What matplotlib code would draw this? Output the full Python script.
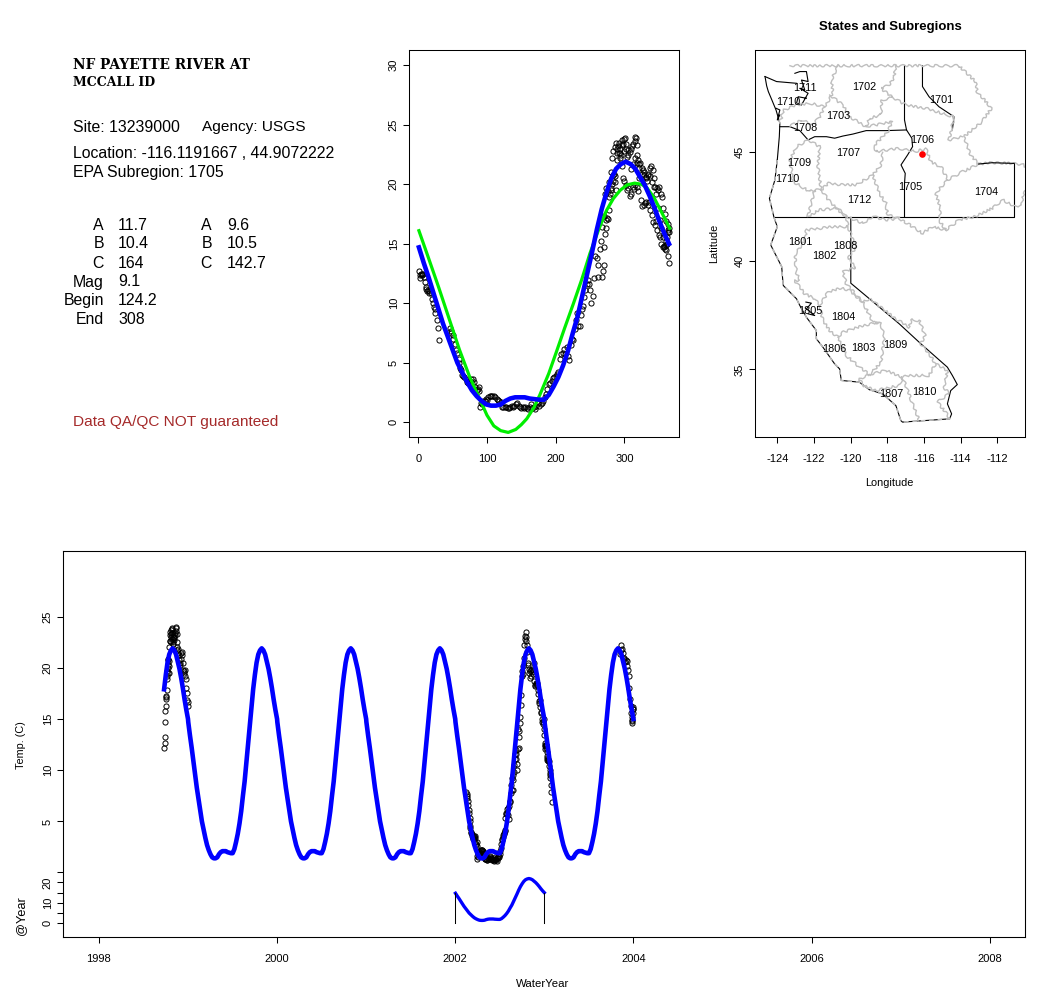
import numpy as np
import matplotlib
matplotlib.use("Agg")
import matplotlib.pyplot as plt

plt.rcParams["font.family"] = ["Liberation Sans", "DejaVu Sans"]
plt.rcParams["axes.unicode_minus"] = False

W, H = 1038, 1001

# fitted curves, day of water year -> temp
blue_days = [1, 8, 15, 22, 29, 36, 43, 50, 57, 64, 71, 78, 85, 92, 99, 106, 113, 120, 127, 134, 141, 148, 155, 162,
             169, 176, 183, 190, 197, 204, 211, 218, 225, 232, 239, 246, 253, 260, 267, 274, 281, 288, 295, 302,
             309, 316, 323, 330, 337, 344, 351, 358, 365]
blue_temp = [14.7, 13.4, 12.2, 10.9, 9.6, 8.3, 7.2, 6.1, 5.0, 4.2, 3.4, 2.7, 2.2, 1.8, 1.5, 1.4, 1.4, 1.5, 1.8, 2.0,
             2.1, 2.1, 2.1, 2.0, 1.95, 1.9, 1.9, 2.3, 3.0, 3.8, 4.8, 6.0, 7.5, 8.9, 10.7, 12.5, 14.3, 16.2, 17.9,
             19.3, 20.5, 21.3, 21.7, 21.9, 21.7, 21.3, 20.6, 19.9, 19.0, 18.0, 16.9, 15.9, 15.0]
green_days = [1, 15, 30, 45, 60, 75, 90, 100, 110, 120, 131, 142, 150, 158, 168, 177, 190, 201, 213, 226, 238, 250,
              262, 274, 284, 294, 304, 315, 325, 333, 343, 352, 360, 366]
green_temp = [16.1, 13.8, 11.3, 8.7, 6.1, 3.8, 1.9, 0.6, -0.3, -0.7, -0.85, -0.6, -0.2, 0.3, 1.2, 2.3, 4.1, 5.9, 7.9,
              10.0, 12.0, 14.2, 16.1, 17.8, 18.8, 19.5, 19.95, 20.1, 20.0, 19.7, 18.9, 17.9, 17.0, 16.3]

# observations, by the year the day counts from
obs_1998_days = [268, 269, 270, 271, 272, 273, 274, 275, 276, 277, 278, 279, 280, 281, 282, 283, 284, 285, 286, 287,
                 288, 289, 290, 291, 292, 293, 294, 295, 296, 297, 298, 299, 300, 301, 302, 303, 304, 305, 306, 308,
                 309, 311, 313, 315, 316, 317, 318, 319, 320, 321, 323, 325, 327, 329, 331, 333, 335, 337, 339, 341,
                 343, 345, 347, 349, 351, 353, 355, 357, 359, 361, 363, 365]
obs_1998_temp = [12.2, 12.7, 13.2, 14.7, 15.8, 16.3, 17.0, 17.2, 17.1, 17.8, 18.9, 19.2, 19.7, 19.5, 20.0, 20.3, 20.8,
                 20.9, 20.2, 20.7, 19.5, 22.0, 22.6, 23.2, 23.5, 22.6, 23.0, 22.5, 23.3, 23.7, 23.4, 22.8, 23.8, 23.9,
                 23.4, 23.0, 22.3, 22.5, 22.9, 22.7, 23.0, 23.2, 23.4, 23.6, 24.0, 23.9, 23.3, 22.5, 22.0, 21.7, 21.8,
                 21.4, 21.2, 20.8, 20.5, 20.3, 20.9, 21.4, 21.5, 21.2, 20.5, 19.8, 19.7, 19.5, 19.8, 19.2, 18.9, 18.0,
                 17.5, 16.9, 16.7, 16.3]
obs_2002_days = [46, 47, 48, 50, 51, 53, 55, 57, 59, 60, 61, 62, 64, 65, 67, 69, 71, 73, 75, 77, 78, 80, 81, 83, 85,
                 87, 88, 89, 90, 91, 93, 95, 97, 99, 100, 102, 104, 106, 108, 110, 112, 114, 116, 118, 120, 122, 124,
                 126, 128, 130, 132, 134, 136, 138, 140, 142, 144, 146, 148, 150, 152, 154, 156, 158, 160, 162, 164,
                 166, 168, 170, 172, 174, 176, 178, 180, 182, 184, 186, 188, 190, 192, 194, 196, 198, 200, 202, 204,
                 206, 208, 210, 212, 214, 216, 218, 220, 222, 224, 226, 228, 230, 231, 233, 235, 237, 238, 240, 242,
                 243, 245, 247, 249, 250, 252, 254, 256, 258, 260, 261, 262, 264, 266, 268, 270, 272, 274, 276, 278,
                 280, 282, 284, 286, 288, 290, 292, 294, 296, 298, 300, 302, 304, 306, 308, 310, 312, 314, 316, 318,
                 320, 322, 324, 326, 328, 330, 332, 334, 336, 338, 340, 342, 344, 346, 348, 350, 352, 354, 356, 358,
                 360, 362, 364, 365]
obs_2002_temp = [7.9, 7.7, 7.5, 7.3, 7.0, 6.6, 6.1, 5.8, 5.3, 5.0, 4.6, 4.4, 4.0, 3.9, 3.8, 3.6, 3.4, 3.3, 3.5, 3.6,
                 3.3, 3.6, 3.4, 3.0, 2.7, 2.8, 3.0, 2.6, 1.3, 1.6, 1.5, 1.8, 1.8, 2.0, 1.9, 2.1, 2.2, 2.2, 2.2, 2.2,
                 2.1, 2.0, 1.9, 1.8, 1.7, 1.3, 1.3, 1.3, 1.3, 1.2, 1.2, 1.3, 1.4, 1.3, 1.4, 1.5, 1.6, 1.4, 1.3, 1.2,
                 1.3, 1.2, 1.3, 1.2, 1.1, 1.3, 1.5, 1.2, 1.3, 1.1, 1.4, 1.6, 1.4, 1.5, 1.6, 1.8, 2.1, 2.4, 2.8, 3.2,
                 3.3, 3.5, 3.7, 3.8, 3.9, 4.1, 4.2, 5.3, 5.7, 5.8, 6.2, 5.7, 6.3, 5.6, 5.2, 6.5, 7.0, 6.9, 7.8, 8.6,
                 9.2, 8.1, 8.1, 9.0, 9.5, 9.8, 10.5, 11.1, 11.6, 12.0, 11.6, 11.1, 10.0, 10.6, 12.1, 14.0, 13.8, 12.2,
                 13.2, 14.6, 15.2, 16.4, 17.3, 19.2, 19.7, 19.4, 20.2, 21.0, 22.2, 22.8, 23.1, 23.5, 23.0, 22.6, 22.2,
                 21.5, 20.5, 20.3, 19.9, 19.5, 19.7, 19.0, 19.2, 19.8, 19.6, 19.9, 19.8, 19.4, 20.5, 18.7, 18.2, 18.3,
                 18.4, 18.5, 18.3, 18.5, 17.8, 17.4, 16.8, 16.6, 16.9, 16.2, 15.7, 15.6, 15.0, 14.7, 14.7, 14.5, 15.0,
                 14.0, 13.4]
obs_2003_days = [1, 2, 3, 4, 5, 6, 7, 8, 10, 11, 12, 13, 14, 15, 16, 18, 20, 22, 23, 24, 25, 27, 29, 30, 310, 313,
                 316, 319, 322, 325, 328, 331, 334, 337, 340, 343, 346, 349, 352, 354, 356, 358, 359, 360, 361, 362,
                 363, 364, 365]
obs_2003_temp = [12.7, 12.1, 12.4, 12.5, 12.4, 12.5, 12.5, 12.2, 11.8, 11.4, 11.2, 11.0, 11.1, 10.9, 11.0, 10.9, 10.4,
                 10.0, 9.7, 9.5, 9.2, 8.6, 7.9, 6.9, 21.3, 21.7, 22.2, 21.8, 21.4, 20.9, 21.0, 20.6, 20.8, 20.7, 20.2,
                 19.8, 19.2, 18.0, 17.0, 16.3, 15.6, 14.8, 14.6, 14.9, 15.2, 15.6, 16.0, 16.2, 16.0]

# map outlines, lon / lat
coast_line = [(-124.00, 44.65), (-124.13, 43.73), (-124.43, 42.88), (-124.18, 42.00), (-124.00, 41.57),
              (-124.36, 40.73), (-123.76, 39.73), (-123.71, 39.19), (-123.67, 38.86), (-122.95, 38.25),
              (-122.77, 37.94), (-122.41, 37.40), (-121.87, 36.79), (-121.87, 36.41), (-121.51, 36.02),
              (-120.87, 35.25), (-120.60, 35.02), (-120.51, 34.49), (-119.52, 34.41), (-118.97, 34.06),
              (-118.25, 33.87), (-117.53, 33.33), (-117.26, 32.64), (-117.17, 32.57), (-114.60, 32.72)]
state_lines = [
    [(-124.67, 48.49), (-124.04, 48.26), (-122.95, 48.18)],
    [(-124.67, 48.49), (-124.58, 48.06), (-124.49, 47.80), (-124.31, 47.44), (-124.07, 46.95), (-123.86, 46.34),
     (-123.89, 45.72)] + coast_line[:1],
    coast_line + [(-114.49, 32.95), (-114.72, 33.41), (-114.54, 34.02), (-114.18, 34.30),
                  (-114.45, 34.72), (-114.72, 35.10), (-116.17, 36.18), (-117.35, 37.10), (-118.97, 38.25),
                  (-119.99, 38.97), (-119.99, 42.00)],
    [(-124.18, 42.00), (-111.09, 42.00), (-111.09, 44.49)],
    [(-114.45, 46.03), (-114.36, 46.64), (-115.18, 47.10), (-115.72, 47.56), (-116.08, 48.03), (-116.08, 48.99)],
    [(-117.06, 48.99), (-117.06, 46.49), (-116.95, 46.03), (-116.66, 45.65), (-116.62, 45.26), (-116.89, 44.88),
     (-117.25, 44.42), (-117.02, 44.03), (-117.06, 43.57), (-117.06, 42.00)],
    [(-116.95, 46.03), (-118.07, 46.00), (-119.15, 46.00), (-119.88, 45.84), (-120.42, 45.75), (-120.87, 45.65),
     (-121.32, 45.72), (-121.96, 45.72), (-122.32, 45.57), (-122.77, 46.00), (-123.31, 46.18), (-123.86, 46.18)],
    [(-123.04, 48.64), (-122.77, 48.72), (-122.41, 48.72), (-122.32, 48.26), (-122.68, 48.33), (-122.50, 47.87),
     (-122.77, 47.95), (-122.32, 47.72), (-122.68, 47.18), (-122.95, 47.26), (-122.86, 47.56), (-122.41, 47.49)],
    [(-124.07, 47.03), (-123.86, 46.95), (-124.00, 46.49), (-123.86, 46.72)],
    [(-122.44, 38.10), (-122.14, 38.05), (-122.41, 37.79), (-121.96, 37.48), (-122.32, 37.56)],
]
# state line that stays on top of the subregion lines
state_top_line = [(-111.09, 44.49), (-112.28, 44.52), (-113.01, 44.46)]
subregion_lines = [
    [(-123.31, 48.99), (-120.69, 48.99), (-117.53, 48.99), (-114.09, 48.99), (-113.19, 48.26), (-113.10, 47.80),
     (-112.32, 47.03), (-112.83, 46.41), (-113.82, 45.72), (-113.46, 44.88), (-113.01, 44.46), (-112.28, 44.52),
     (-111.20, 44.49), (-110.57, 44.42), (-110.02, 44.03), (-109.90, 43.57), (-110.57, 43.11), (-110.66, 42.57),
     (-111.11, 42.50), (-111.65, 42.80), (-112.28, 42.42), (-113.19, 42.04), (-114.09, 41.88), (-114.81, 41.42),
     (-115.54, 41.57), (-116.08, 41.27), (-116.62, 41.57), (-117.35, 41.96), (-118.07, 41.88), (-118.79, 42.04),
     (-119.33, 41.73), (-120.24, 42.04), (-120.69, 42.42), (-121.69, 42.35), (-122.32, 42.04)],
    [(-120.69, 48.99), (-121.05, 48.33), (-120.96, 47.72), (-121.41, 47.10), (-121.69, 46.64), (-122.05, 46.26),
     (-122.68, 46.50), (-123.30, 46.20)],
    [(-121.41, 47.10), (-122.20, 47.26), (-122.95, 47.18), (-123.65, 46.95), (-123.86, 46.34)],
    [(-121.14, 47.64), (-120.42, 47.18), (-120.06, 46.64), (-119.15, 46.18), (-118.97, 46.57), (-118.34, 46.72),
     (-118.29, 47.41), (-117.71, 47.53), (-118.34, 47.95), (-117.89, 48.10), (-117.62, 48.48), (-117.53, 48.99)],
    [(-117.71, 47.53), (-116.98, 47.18), (-115.90, 47.03), (-114.72, 46.72), (-114.36, 46.64), (-114.63, 45.57),
     (-113.91, 45.72)],
    [(-119.15, 46.18), (-117.71, 46.41), (-117.98, 45.95), (-118.70, 45.33), (-118.61, 45.03), (-117.35, 45.18),
     (-116.44, 45.03), (-115.90, 45.18), (-115.63, 44.57), (-115.00, 44.26), (-114.72, 43.73), (-113.91, 44.10),
     (-113.01, 44.46)],
    [(-114.72, 43.73), (-115.36, 43.11), (-115.09, 42.42), (-115.18, 41.88), (-114.81, 41.42)],
    [(-118.25, 45.00), (-118.34, 44.42), (-118.79, 43.96), (-118.43, 43.11), (-118.07, 42.65), (-117.98, 42.11),
     (-117.35, 41.96)],
    [(-118.79, 43.96), (-119.70, 43.50), (-120.42, 43.50), (-121.23, 43.57), (-121.60, 43.26), (-121.96, 43.26),
     (-122.23, 42.42), (-122.32, 42.04)],
    [(-121.60, 43.26), (-121.14, 42.73), (-120.69, 42.35), (-120.24, 42.04)],
    [(-122.32, 45.57), (-122.95, 45.26), (-123.31, 44.65), (-123.13, 43.65), (-122.23, 43.19), (-121.96, 43.26)],
    [(-122.32, 45.57), (-121.69, 45.26), (-121.78, 44.34), (-121.60, 43.26)],
    [(-120.24, 42.04), (-120.15, 41.57), (-120.96, 41.57), (-122.41, 41.42), (-122.50, 40.96), (-123.04, 40.27),
     (-122.95, 39.42), (-122.77, 39.12), (-123.04, 39.09), (-122.50, 38.48), (-121.96, 38.25), (-121.69, 37.94)],
    [(-120.15, 41.57), (-119.88, 40.96), (-119.70, 40.63), (-120.15, 40.09), (-119.70, 39.71), (-120.42, 39.48),
     (-120.24, 38.94), (-119.33, 38.10), (-118.97, 38.25)],
    [(-121.69, 37.94), (-121.23, 38.56), (-120.51, 38.76), (-120.06, 38.63), (-119.33, 38.10), (-118.79, 37.17),
     (-118.34, 37.10), (-118.16, 36.48), (-118.34, 35.33), (-118.97, 34.76)],
    [(-121.69, 37.94), (-121.51, 37.25), (-121.14, 36.79), (-120.69, 36.48), (-120.24, 35.64), (-119.52, 35.10),
     (-118.97, 34.76)],
    [(-120.69, 36.48), (-120.42, 36.71), (-119.33, 37.02), (-118.43, 37.17)],
    [(-118.97, 34.76), (-119.52, 34.56), (-119.33, 34.26), (-118.61, 34.03), (-117.35, 34.26), (-117.17, 34.64),
     (-116.44, 33.03), (-116.26, 32.64)],
    [(-118.97, 34.76), (-118.07, 34.95), (-117.17, 34.64), (-116.80, 34.72), (-115.72, 34.72), (-115.36, 35.25)],
    [(-118.88, 38.25), (-118.61, 38.02), (-117.53, 37.33), (-116.80, 36.94), (-116.71, 37.28), (-116.26, 37.25),
     (-115.94, 36.56), (-116.17, 36.18), (-115.72, 35.71), (-115.36, 35.25), (-114.72, 34.95), (-114.91, 34.18),
     (-114.63, 33.87), (-115.27, 33.49), (-114.81, 33.03), (-114.60, 32.72)],
]
label_text = ["1702", "1701", "1711", "1710", "1703", "1708", "1706", "1707", "1709", "1710", "1705", "1704", "1712",
              "1801", "1808", "1802", "1805", "1804", "1806", "1803", "1809", "1807", "1810"]
label_lon = [-119.28, -115.05, -122.50, -123.40, -120.69, -122.50, -116.12, -120.15, -122.81, -123.46, -116.72, -112.60,
             -119.55, -122.73, -120.31, -121.45, -122.19, -120.42, -120.87, -119.33, -117.56, -117.80, -115.97]
label_lat = [48.01, 47.41, 47.95, 47.30, 46.67, 46.12, 45.57, 44.95, 44.52, 43.77, 43.40, 43.17, 42.80, 40.87, 40.68,
             40.22, 37.71, 37.43, 35.93, 36.00, 36.10, 33.86, 33.98]
site_lon, site_lat = -116.1191667, 44.9072222

# left panel text
param_labels = ["A", "B", "C", "Mag", "Begin", "End"]
param_values = ["11.7", "10.4", "164", "9.1", "124.2", "308"]
param2_labels = ["A", "B", "C"]
param2_values = ["9.6", "10.5", "142.7"]

TICK_FS = 8.0
LABEL_FS = 7.8
LW_AXIS = 0.75
BLUE = "#0000FF"
GREEN = "#00EE00"


def add_axes_px(fig, left, top, right, bottom):
    """Axes from pixel edges of the picture"""
    return fig.add_axes([left / W, 1 - bottom / H, (right - left) / W, (bottom - top) / H])


def fig_text(fig, x, y, s, **kw):
    """Text placed in picture pixels, vertically centred"""
    kw.setdefault("va", "center")
    kw.setdefault("color", "black")
    fig.text(x / W, 1 - y / H, s, **kw)


def style_axes(ax):
    for spine in ax.spines.values():
        spine.set_linewidth(LW_AXIS)
    ax.tick_params(axis="x", length=4.3, width=LW_AXIS, labelsize=TICK_FS, pad=8)
    ax.tick_params(axis="y", length=4.3, width=LW_AXIS, labelsize=TICK_FS, pad=3.2)
    for lab in ax.get_yticklabels():
        lab.set_rotation(90)
        lab.set_va("center")


def draw_obs(ax, x, y):
    ax.plot(x, y, "o", ms=3.7, mfc="none", mec="black", mew=0.7, ls="none")


def left_panel(fig):
    fig_text(fig, 73, 65, "NF PAYETTE RIVER AT", family="DejaVu Serif", weight="bold", fontsize=9.9)
    fig_text(fig, 73, 83, "MCCALL ID", family="DejaVu Serif", weight="bold", fontsize=9.0)
    fs = 11.4
    fig_text(fig, 73, 127, "Site: 13239000", fontsize=fs)
    fig_text(fig, 202, 127, "Agency: USGS", fontsize=11.1)
    fig_text(fig, 73, 154, "Location: -116.1191667 , 44.9072222", fontsize=fs)
    fig_text(fig, 73, 172, "EPA Subregion: 1705", fontsize=fs)
    rows = [225, 244, 263, 282, 301, 320]
    for y, lab, val in zip(rows, param_labels, param_values):
        fig_text(fig, 104, y, lab, fontsize=fs, ha="right")
        fig_text(fig, 118, y, val, fontsize=fs)
    for y, lab, val in zip(rows, param2_labels, param2_values):
        fig_text(fig, 212, y, lab, fontsize=fs, ha="right")
        fig_text(fig, 227, y, val, fontsize=fs)
    fig_text(fig, 73, 422, "Data QA/QC NOT guaranteed", fontsize=11.1, color="#A52A2A")


def year_panel(fig):
    ax = add_axes_px(fig, 409.3, 50.3, 679.3, 437.3)
    draw_obs(ax, obs_1998_days, obs_1998_temp)
    draw_obs(ax, obs_2002_days, obs_2002_temp)
    draw_obs(ax, obs_2003_days, obs_2003_temp)
    ax.plot(green_days, green_temp, color=GREEN, lw=2.3)
    ax.plot(blue_days, blue_temp, color=BLUE, lw=3.3)
    ax.set_xlim(-13, 380)
    ax.set_ylim(-1.26, 31.26)
    ax.set_xticks([0, 100, 200, 300])
    ax.set_yticks([0, 5, 10, 15, 20, 25, 30])
    style_axes(ax)


def map_panel(fig):
    ax = add_axes_px(fig, 755.3, 50.3, 1025.3, 437.3)
    for line in state_lines:
        lon, lat = zip(*line)
        ax.plot(lon, lat, color="black", lw=0.8)
    # subregion lines are jagged in the original
    for line in subregion_lines:
        lon, lat = zip(*line)
        ln, = ax.plot(lon, lat, color="#BEBEBE", lw=1.0)
        ln.set_sketch_params(scale=1.2, length=8, randomness=3)
    # coast shows through gray lines
    lon, lat = zip(*coast_line)
    ax.plot(lon, lat, color="#BEBEBE", lw=1.1, ls=(0, (3, 2.5)))
    lon, lat = zip(*state_top_line)
    ax.plot(lon, lat, color="black", lw=0.8)
    for s, lon, lat in zip(label_text, label_lon, label_lat):
        ax.text(lon, lat, s, fontsize=LABEL_FS, ha="center", va="center")
    ax.plot([site_lon], [site_lat], "o", color="red", ms=4.8, mew=0)
    ax.set_xlim(-125.2, -110.47)
    ax.set_ylim(31.87, 49.7)
    ax.set_xticks([-124, -122, -120, -118, -116, -114, -112])
    ax.set_yticks([35, 40, 45])
    style_axes(ax)
    fig_text(fig, 890, 27, "States and Subregions", fontsize=9.5, weight="bold", ha="center")
    fig_text(fig, 714, 243.8, "Latitude", fontsize=LABEL_FS, rotation=90, ha="center")
    fig_text(fig, 889, 483, "Longitude", fontsize=LABEL_FS, ha="center")


def record_panel(fig):
    rect = (63.3, 551.3, 1025.3, 937.3)
    ax = add_axes_px(fig, *rect)
    days = np.array(blue_days, dtype=float)
    temp = np.array(blue_temp)
    x_all = [1998 + days[days >= 267] / 365]
    y_all = [temp[days >= 267]]
    for base in [1999, 2000, 2001, 2002, 2003]:
        x_all.append(base + days / 365)
        y_all.append(temp)

    draw_obs(ax, 1998 + np.array(obs_1998_days) / 365, obs_1998_temp)
    draw_obs(ax, 2002 + np.array(obs_2002_days) / 365, obs_2002_temp)
    # first days of the 2003 record sit right after 2002
    draw_obs(ax, 2003 + np.array(obs_2003_days) / 365, obs_2003_temp)
    ax.plot(np.concatenate(x_all), np.concatenate(y_all), color=BLUE, lw=3.3)
    ax.set_xlim(1997.6, 2008.4)
    ax.set_ylim(-6.31, 31.37)
    ax.set_xticks([1998, 2000, 2002, 2004, 2006, 2008])
    ax.set_yticks([5, 10, 15, 20, 25])
    style_axes(ax)

    # small one year strip under the record, same x axis
    strip = add_axes_px(fig, *rect)
    strip.patch.set_alpha(0)
    strip.plot(2002 + days / 365, temp, color=BLUE, lw=2.4)
    strip.plot([2002, 2002], [0, temp[0]], color="black", lw=0.75)
    strip.plot([2003, 2003], [0, temp[-1]], color="black", lw=0.75)
    strip.set_xlim(1997.6, 2008.4)
    strip.set_ylim(-6.86, 182)
    strip.set_xticks([])
    strip.set_yticks([0, 5, 10, 15, 20, 25])
    strip.set_yticklabels(["0", "", "10", "", "20", ""])
    style_axes(strip)

    fig_text(fig, 21.5, 745, "Temp. (C)", fontsize=LABEL_FS, rotation=90, ha="center")
    fig_text(fig, 21.5, 915.5, "@Year", fontsize=9.2, rotation=90, ha="center")
    fig_text(fig, 543, 984, "WaterYear", fontsize=8.2, ha="center")


def main():
    fig = plt.figure(figsize=(W / 100, H / 100), dpi=100)
    left_panel(fig)
    year_panel(fig)
    map_panel(fig)
    record_panel(fig)
    fig.savefig("out.png", dpi=100)


if __name__ == "__main__":
    main()
